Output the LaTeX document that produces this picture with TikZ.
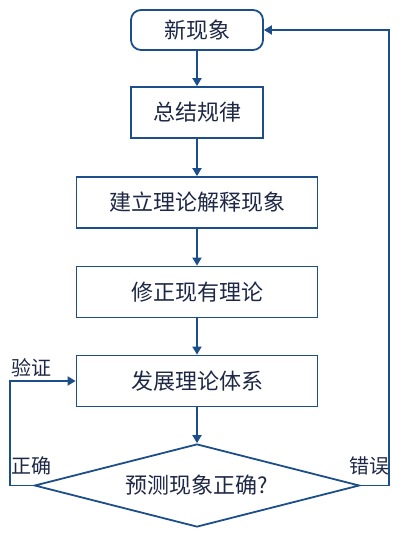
\documentclass[tikz,border=0pt]{standalone}
\usepackage{fontspec}
\setmainfont{Noto Sans CJK SC}
\usetikzlibrary{arrows.meta,shapes.geometric}
\definecolor{lineblue}{RGB}{28,78,138}
\definecolor{txt}{RGB}{30,40,70}
\begin{document}
\begin{tikzpicture}[x=1pt,y=-1pt,
  box/.style={draw=lineblue,line width=1.8pt,minimum height=51pt,inner sep=0pt,font=\fontsize{22}{24}\selectfont,text=txt},
  flow/.style={draw=lineblue,line width=1.8pt,-{Triangle[length=8pt,width=9pt]}},
  lbl/.style={font=\fontsize{20}{22}\selectfont,text=txt,inner sep=0pt}]
\useasboundingbox (0,0) rectangle (409,535);
\node[box,rounded corners=10pt,minimum width=132pt,minimum height=40pt] (s) at (197,30) {新现象};
\node[box,minimum width=132pt] (b2) at (197,112.5) {总结规律};
\node[box,minimum width=241pt] (b3) at (197,202.5) {建立理论解释现象};
\node[box,minimum width=241pt] (b4) at (197,292) {修正现有理论};
\node[box,minimum width=241pt] (b5) at (197,381) {发展理论体系};
\node[draw=lineblue,line width=1.8pt,diamond,aspect=3.9,minimum width=325pt,minimum height=83pt,inner sep=0pt,font=\fontsize{22}{24}\selectfont,text=txt] (d) at (197,485.5) {预测现象正确?};
\draw[flow] (s) -- (b2);
\draw[flow] (b2) -- (b3);
\draw[flow] (b3) -- (b4);
\draw[flow] (b4) -- (b5);
\draw[flow] (b5) -- (d);
\coordinate (lc) at (10,485.5);
\coordinate (rc) at (389,485.5);
\draw[flow] (d.west) -- (lc) |- (b5.west);
\draw[flow] (d.east) -- (rc) |- (s.east);
\node[lbl,anchor=west] (v) at (11,368) {验证};
\node[lbl,anchor=west] (z) at (11,466) {正确};
\node[lbl,anchor=east] (c) at (390,466) {错误};
\end{tikzpicture}
\end{document}
